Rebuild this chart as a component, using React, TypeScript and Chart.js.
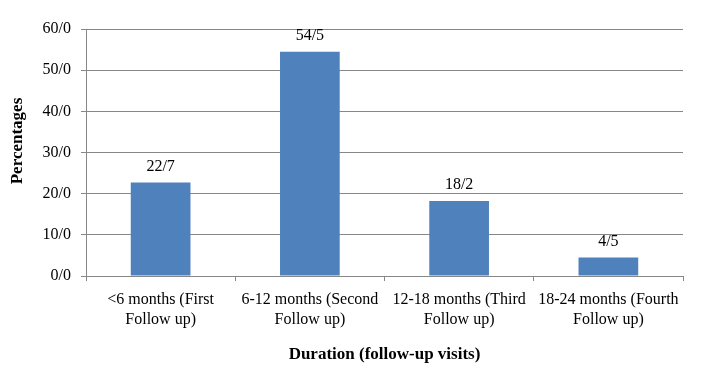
import React, { useEffect, useRef } from "react";
import { Chart, registerables } from "chart.js";

Chart.register(...registerables);

const categories: string[][] = [
  ["<6 months (First", "Follow up)"],
  ["6-12 months (Second", "Follow up)"],
  ["12-18 months (Third", "Follow up)"],
  ["18-24 months (Fourth", "Follow up)"],
];
const percentages: number[] = [22.7, 54.5, 18.2, 4.5];
const yTicks: number[] = [0, 10, 20, 30, 40, 50, 60];
const yTitle = "Percentages";
const xTitle = "Duration (follow-up visits)";

const FONT = "'Liberation Serif', 'Times New Roman', serif";
const GRID = "#878787";
const BAR = "#4F81BD";

const fmt = (v: number) => v.toFixed(1).replace(".", "/");

const labelPlugin = {
  id: "customText",
  afterDatasetsDraw(chart: any) {
    const ctx = chart.ctx;
    const meta = chart.getDatasetMeta(0);
    ctx.save();
    ctx.fillStyle = "#000";
    ctx.font = `16px ${FONT}`;
    ctx.textAlign = "center";
    ctx.textBaseline = "middle";
    meta.data.forEach((bar: any, i: number) => {
      ctx.fillText(fmt(percentages[i]), bar.x, bar.y - 16);
    });
    // axis titles
    const area = chart.chartArea;
    ctx.font = `bold 17px ${FONT}`;
    ctx.fillText(xTitle, (area.left + area.right) / 2, 355);
    ctx.translate(18, 141);
    ctx.rotate(-Math.PI / 2);
    ctx.fillText(yTitle, 0, 0);
    ctx.restore();
  },
};

export default function App() {
  const ref = useRef<HTMLCanvasElement | null>(null);
  useEffect(() => {
    if (!ref.current) return;
    const chart = new Chart(ref.current, {
      type: "bar",
      data: {
        labels: categories,
        datasets: [
          {
            data: percentages,
            backgroundColor: BAR,
            borderWidth: 0,
            barPercentage: 0.4,
            categoryPercentage: 1,
          },
        ],
      },
      options: {
        animation: false,
        responsive: true,
        maintainAspectRatio: false,
        layout: { padding: { top: 29, right: 29, left: 0, bottom: 0 } },
        plugins: { legend: { display: false }, tooltip: { enabled: false } },
        scales: {
          x: {
            grid: {
              offset: true,
              drawOnChartArea: false,
              drawTicks: true,
              tickLength: 5,
              color: GRID,
            },
            border: { display: true, color: GRID },
            ticks: {
              color: "#000",
              font: { family: FONT, size: 16, lineHeight: 1.3 },
              padding: 8,
              maxRotation: 0,
              autoSkip: false,
            },
            afterFit: (s: any) => {
              s.height = 97;
            },
          },
          y: {
            min: 0,
            max: 60,
            grid: { color: GRID, tickLength: 5, drawTicks: true },
            border: { display: true, color: GRID },
            afterBuildTicks: (s: any) => {
              s.ticks = yTicks.map((v) => ({ value: v }));
            },
            ticks: {
              color: "#000",
              font: { family: FONT, size: 16 },
              padding: 10,
              callback: (v: any) => fmt(Number(v)),
            },
            afterFit: (s: any) => {
              s.width = 86;
            },
          },
        },
      },
      plugins: [labelPlugin],
    });
    return () => chart.destroy();
  }, []);
  return (
    <div style={{ position: "fixed", left: 0, top: 0, width: 712, height: 373, background: "#fff" }}>
      <canvas ref={ref} />
    </div>
  );
}
